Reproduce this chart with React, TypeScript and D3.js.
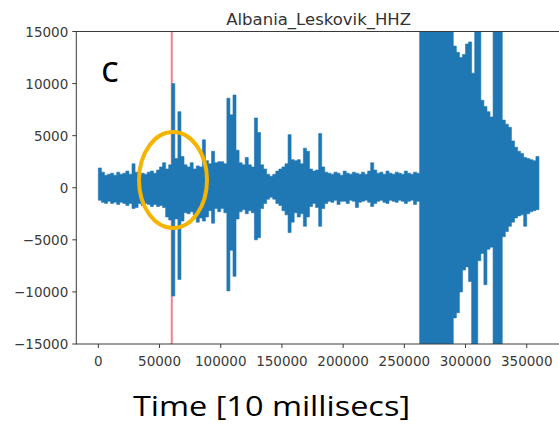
import React from "react";
import * as d3 from "d3";

// ---- data ----
const SAMPLE_STEP = 2500; // samples per envelope bin
const upper = [
  1900, 1500, 1200, 1300, 1400, 1200, 1500, 1300, 1400, 1600,
  1300, 2300, 1500, 1200, 1400, 1300, 1500, 1600, 1400, 1700,
  2000, 2400, 1800, 2200, 10000, 2800, 7300, 3000, 2200, 2000,
  2400, 1800, 2100, 2000, 4600, 2600, 2300, 3500, 2400, 2500,
  2500, 2300, 8600, 7000, 8900, 3600, 2400, 2200, 2900, 2200,
  2000, 6700, 5300, 2200, 1800, 1300, 1100, 1300, 1600, 1800,
  2000, 2300, 5100, 2700, 2600, 2700, 2300, 3800, 3500, 1800,
  1600, 1700, 5200, 2000, 1500, 1400, 1300, 1500, 1400, 1200,
  1600, 1400, 1300, 1500, 1400, 1300, 1500, 1300, 1600, 2400,
  1700, 1400, 1500, 1300, 1600, 1400, 1300, 1500, 1400, 1300,
  1600, 1400, 1300, 1500, 1400, 20000, 20000, 20000, 20000, 20000,
  20000, 20000, 20000, 20000, 20000, 20000, 13600, 13000, 12500, 12800,
  13800, 14000, 11000, 20000, 20000, 8400, 7800, 7300, 6800, 20000,
  20000, 20000, 6500, 6100, 5800, 4500, 3900, 3500, 3300, 2900,
  2800, 2700, 2600, 3000,
];
const lower = [
  -1200, -1400, -1500, -1300, -1500, -1400, -1600, -1400, -1500, -1700,
  -1500, -2000, -1900, -1500, -1700, -1500, -1600, -1800, -1600, -1800,
  -1700, -1900, -2800, -3100, -10400, -3000, -8800, -3200, -2400, -2500,
  -2300, -2600, -3300, -2900, -3200, -2800, -2200, -3400, -2000, -2300,
  -2000, -2400, -9900, -6000, -8500, -3000, -2300, -2100, -2500, -2200,
  -2400, -5000, -4800, -2000, -1500, -1100, -900, -1100, -1500, -1700,
  -2200, -2600, -4300, -3300, -2400, -2800, -2500, -3700, -2800, -1800,
  -1500, -1900, -3700, -2000, -1500, -1300, -1400, -1200, -1600, -1300,
  -1300, -1500, -1200, -1300, -1900, -1400, -1300, -1200, -1400, -1800,
  -1500, -1300, -1200, -1400, -1500, -1200, -1300, -1400, -1200, -1300,
  -1500, -1300, -1200, -1600, -1300, -20000, -20000, -20000, -20000, -20000,
  -20000, -20000, -20000, -20000, -20000, -20000, -12500, -12000, -10000, -7900,
  -7600, -9000, -20000, -20000, -7000, -6300, -9300, -5900, -5700, -20000,
  -20000, -20000, -4700, -4200, -3700, -3300, -2900, -2700, -2600, -3700,
  -2500, -2300, -2200, -2100,
];
const eventTime = 60000;
const xTicks = [0, 50000, 100000, 150000, 200000, 250000, 300000, 350000];
const yTicks = [-15000, -10000, -5000, 0, 5000, 10000, 15000];
const title = "Albania_Leskovik_HHZ";
const panelLabel = "c";
const xLabel = "Time [10 millisecs]";

// ---- layout ----
const W = 559;
const H = 424;
const left = 76.3;
const right = 561;
const top = 31.5;
const bottom = 344;

export default function App() {
  const x = d3.scaleLinear().domain([-18000, 378000]).range([left, right]);
  const y = d3.scaleLinear().domain([-15000, 15000]).range([bottom, top]);

  const pts = upper.map((u, i) => ({ t: i * SAMPLE_STEP, hi: u, lo: lower[i] }));
  pts.push({ t: upper.length * SAMPLE_STEP, hi: upper[upper.length - 1], lo: lower[lower.length - 1] });

  const area = d3
    .area<{ t: number; hi: number; lo: number }>()
    .x((d) => x(d.t))
    .y0((d) => y(d.lo))
    .y1((d) => y(d.hi))
    .curve(d3.curveStepAfter);

  const fmt = (v: number) => (v < 0 ? "\u2212" + Math.abs(v) : String(v));
  const axisColor = "#3a3a3a";
  const tickFont = "'DejaVu Sans', sans-serif";

  return (
    <svg width={W} height={H} style={{ position: "absolute", left: 0, top: 0, background: "#fff" }}>
      <defs>
        <clipPath id="plotclip">
          <rect x={left} y={top} width={right - left} height={bottom - top} />
        </clipPath>
      </defs>
      <rect x={0} y={0} width={W} height={H} fill="#fff" />
      <g clipPath="url(#plotclip)">
        <line x1={x(eventTime)} x2={x(eventTime)} y1={top} y2={bottom} stroke="#f2828a" strokeWidth={2} />
        <path d={area(pts) || ""} fill="#1f77b4" stroke="#1f77b4" strokeWidth={0.6} />
      </g>
      {/* spines */}
      <rect x={left} y={top} width={right - left} height={bottom - top} fill="none" stroke={axisColor} strokeWidth={1} />
      {/* x ticks */}
      {xTicks.map((t) => (
        <g key={"x" + t}>
          <line x1={x(t)} x2={x(t)} y1={bottom} y2={bottom + 4} stroke={axisColor} strokeWidth={1} />
          <text x={x(t)} y={bottom + 22} textAnchor="middle" fontFamily={tickFont} fontSize={13.5} fill="#3a3a3a">
            {fmt(t)}
          </text>
        </g>
      ))}
      {/* y ticks */}
      {yTicks.map((v) => (
        <g key={"y" + v}>
          <line x1={left - 4} x2={left} y1={y(v)} y2={y(v)} stroke={axisColor} strokeWidth={1} />
          <text x={left - 8} y={y(v) + 5} textAnchor="end" fontFamily={tickFont} fontSize={13.5} fill="#3a3a3a">
            {fmt(v)}
          </text>
        </g>
      ))}
      <text x={(left + right) / 2} y={25} textAnchor="middle" fontFamily={tickFont} fontSize={16.5} fill="#333">
        {title}
      </text>
      <text x={101} y={82} fontFamily="'Open Sans', sans-serif" fontSize={37} fill="#000">
        {panelLabel}
      </text>
      <ellipse cx={173} cy={180} rx={34} ry={48} fill="none" stroke="#f5b400" strokeWidth={4} />
      <text x={133} y={416} fontFamily="'Open Sans', sans-serif" fontSize={28} fill="#000" textLength={277} lengthAdjust="spacingAndGlyphs">
        {xLabel}
      </text>
    </svg>
  );
}
